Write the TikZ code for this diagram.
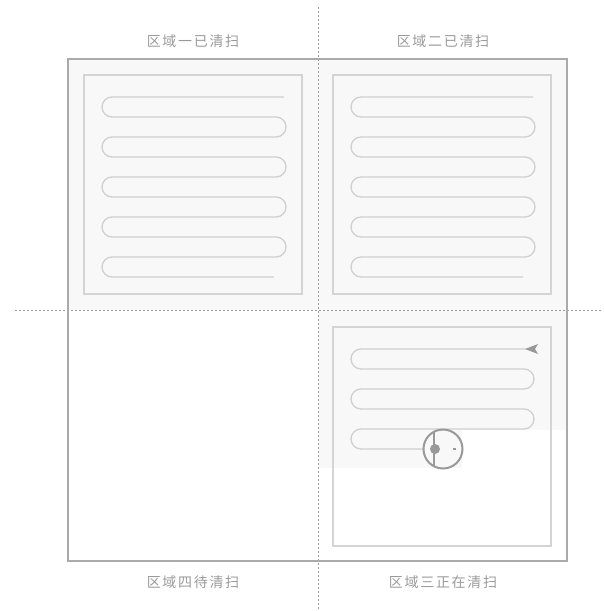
\documentclass[tikz,border=0pt]{standalone}
\usepackage{fontspec}
\newfontfamily\cjk[LetterSpace=12]{Noto Sans CJK SC}
\usetikzlibrary{positioning}
\definecolor{wallgray}{HTML}{AAAAAA}
\definecolor{roomgray}{HTML}{D4D4D4}
\definecolor{pathgray}{HTML}{D0D0D0}
\definecolor{donegray}{HTML}{F8F8F8}
\definecolor{textgray}{HTML}{9A9A9A}
\definecolor{botgray}{HTML}{999999}
\tikzset{
  zonelabel/.style={font=\cjk\fontsize{14}{16}\selectfont,text=textgray,inner sep=0pt},
  divider/.style={textgray,line width=1pt,dash pattern=on 2pt off 2pt},
  room/.style={draw=roomgray,line width=1.3pt},
  sweep/.style={draw=pathgray,line width=1.3pt,rounded corners=10pt},
  robot/.style={draw=botgray,line width=2pt,circle,minimum size=39pt,inner sep=0pt}
}
\begin{document}
\begin{tikzpicture}[x=1pt,y=-1pt]
\useasboundingbox (0,0) rectangle (603,611);
\fill[donegray] (68,59) rectangle (567,310);
\fill[donegray] (318,310) rectangle (567,430);
\fill[donegray] (318,430) rectangle (462,468);
\draw[divider] (318,7) -- (318,611);
\draw[divider] (15,310) -- (603,310);
\draw[wallgray,line width=2pt] (68,59) rectangle (567,561);
\foreach \dx in {0,249} {
  \draw[room,xshift=\dx] (84,75) rectangle (302,294);
  \draw[sweep,xshift=\dx] (284,97)
    \foreach \k in {0,...,3} { -- (102,97+40*\k) -- (102,117+40*\k) -- (286,117+40*\k) -- (286,137+40*\k) }
    -- (102,257) -- (102,277) -- (274,277);
}
\draw[room] (333,327) rectangle (551,546);
\draw[sweep] (526,349) -- (351,349) -- (351,369) -- (534,369) -- (534,389) -- (351,389) -- (351,409)
  -- (534,409) -- (534,429) -- (351,429) -- (351,449) -- (424,449);
\fill[botgray] (525,349) -- (538,344) -- (535,349) -- (538,354) -- cycle;
\node[robot] (bot) at (443,449) {};
\draw[botgray,line width=1.2pt] (bot.center) ++(-9,-17.3) -- ++(0,34.6);
\fill[botgray] (bot.center) ++(-8,0) circle (5);
\draw[botgray,line width=1.5pt] (bot.center) ++(10,0) -- ++(3,0);
\node[zonelabel] (Z1) at (193,41) {区域一已清扫};
\node[zonelabel] (Z2) at (443,41) {区域二已清扫};
\node[zonelabel] (Z4) at (193,582) {区域四待清扫};
\node[zonelabel] (Z3) at (443,582) {区域三正在清扫};
\end{tikzpicture}
\end{document}
